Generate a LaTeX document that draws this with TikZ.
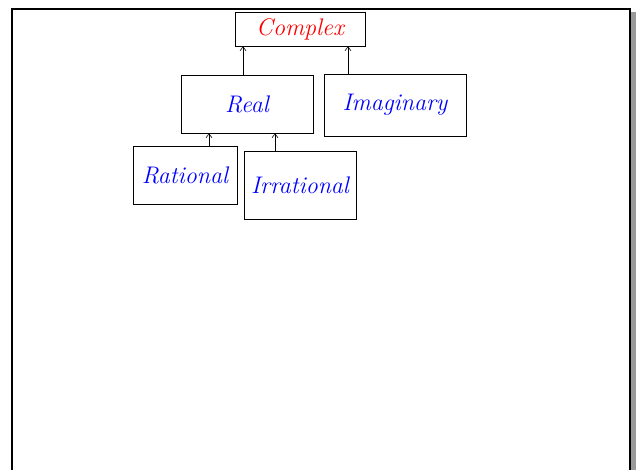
\documentclass[tikz,border=0pt]{standalone}
\usepackage{tikz}
\usetikzlibrary{calc,arrows.meta}

\tikzset{
  numbox/.style={draw,semithick,inner sep=0pt,font=\fontsize{24}{26}\selectfont\itshape,text=blue},
  upto/.style={-{Straight Barb[length=4pt,width=6pt]},semithick}
}

\begin{document}
\begin{tikzpicture}[x=1pt,y=-1pt]
  \useasboundingbox (0,0) rectangle (642,470);
  %\draw[help lines,step=50] (0,0) grid (642,470);

  %CADRE
  \fill[gray!80] (631,12) rectangle (636,470);
  \draw[line width=2pt] (12,470) -- (12,9) -- (630,9) -- (630,470);

  %BOITES
  \node[numbox,text=red,minimum width=130pt,minimum height=34pt] (complex) at (300,29) {Complex};
  \node[numbox,minimum width=132pt,minimum height=58pt] (real) at (247,104) {Real};
  \node[numbox,minimum width=142pt,minimum height=62pt] (imag) at (395,105) {Imaginary};
  \node[numbox,minimum width=104pt,minimum height=58pt] (rat) at (185,175) {Rational};
  \node[numbox,minimum width=112pt,minimum height=68pt] (irrat) at (300,185) {Irrational};

  %FLECHES
  \draw[upto] ([xshift=-4pt]real.north) -- ([xshift=-4pt]real.north |- complex.south);
  \draw[upto] ([xshift=-47pt]imag.north) -- ([xshift=-47pt]imag.north |- complex.south);
  \draw[upto] ([xshift=24pt]rat.north) -- ([xshift=24pt]rat.north |- real.south);
  \draw[upto] ([xshift=-25pt]irrat.north) -- ([xshift=-25pt]irrat.north |- real.south);
\end{tikzpicture}
\end{document}
